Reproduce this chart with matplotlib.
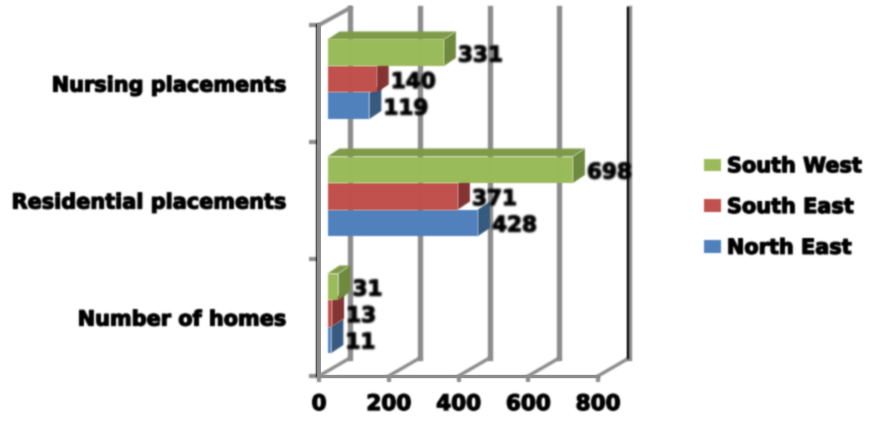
import matplotlib
matplotlib.use('Agg')
import matplotlib.pyplot as plt
import matplotlib.patheffects as pe
from matplotlib.lines import Line2D
from matplotlib.patches import Polygon, Rectangle
import numpy as np

categories = ['Number of homes', 'Residential placements', 'Nursing placements']
north_east = [11, 428, 119]
south_east = [13, 371, 140]
south_west = [31, 698, 331]
xticks = [0, 200, 400, 600, 800]

W, H = 885, 426
fig = plt.figure(figsize=(W/100, H/100), dpi=100, facecolor='white')
ax = fig.add_axes([319/W, 1-376/H, 279/W, 351/H])
ax.set_xlim(0, 800)
ax.set_ylim(0, 3)

# px to data units, the 3d look is done by hand
px = 800/279
py = 3/351
depth_x = 31*px
depth_y = 18*py

GREY = '#8c8c8c'

# back wall and floor lines
for t in xticks:
    ax.plot([t, t+depth_x], [0, depth_y], color=GREY, lw=2.4, clip_on=False, zorder=1)
    ax.plot([t+depth_x, t+depth_x], [depth_y, 3+17*py], color=GREY, lw=3.8, clip_on=False, zorder=1)
ax.plot([800+depth_x-1.5*px]*2, [depth_y, 3+17*py], color='black', lw=1.4, clip_on=False, zorder=1)
ax.plot([0, depth_x], [3, 3+17*py], color=GREY, lw=2.8, clip_on=False, zorder=1)
ax.plot([-2.5*px, -2.5*px], [0, 3], color='black', lw=1.3, clip_on=False, zorder=2)

for s in ['top', 'right']:
    ax.spines[s].set_visible(False)
ax.spines['left'].set_color(GREY)
ax.spines['left'].set_linewidth(2.8)
ax.spines['bottom'].set_color(GREY)
ax.spines['bottom'].set_linewidth(2.4)

ax.set_xticks(xticks)
ax.set_yticks([0, 1, 2, 3])
ax.set_yticklabels([])
ax.set_yticks([0.5, 1.5, 2.5], minor=True)
ax.set_yticklabels(categories, minor=True, fontsize=15, fontweight='bold')
ax.tick_params(axis='x', length=4, width=3, color=GREY, labelsize=15.5, pad=9)
ax.tick_params(axis='y', which='major', length=7, width=3, color=GREY)
ax.tick_params(axis='y', which='minor', length=0, pad=23)
for lab in ax.get_xticklabels():
    lab.set_fontweight('bold')

series = [
    ('North East', north_east, '#4F81BD', '#36597F', '#43709F', 23),
    ('South East', south_east, '#C0504D', '#843331', '#9C403E', 49.5),
    ('South West', south_west, '#9BBB59', '#6E8A3E', '#7F9A48', 76),
]
bar_h = 26.5*py
start = 8.5*px
side_x = 12*px
side_y = 8*py
handles = []
for name, vals, col, side, top, off in series:
    for c, v in enumerate(vals):
        y0 = c + off*py
        x1 = start + v*1.008
        r = Rectangle((start, y0), x1-start, bar_h, facecolor=col, edgecolor='none', clip_on=False, zorder=5)
        ax.add_patch(r)
        ax.add_patch(Polygon([(x1, y0), (x1+side_x, y0+side_y), (x1+side_x, y0+bar_h+side_y), (x1, y0+bar_h)],
                             facecolor=side, edgecolor='none', clip_on=False, zorder=4))
        if name == 'South West':
            ax.add_patch(Polygon([(start, y0+bar_h), (start+side_x, y0+bar_h+side_y), (x1+side_x, y0+bar_h+side_y), (x1, y0+bar_h)],
                                 facecolor=top, edgecolor='none', clip_on=False, zorder=4))
        ax.annotate(str(v), (x1+side_x, y0+bar_h/2), xytext=(1.5, -2), textcoords='offset points',
                    fontsize=15.5, fontweight='bold', va='center', ha='left', annotation_clip=False, zorder=6)
    handles.append(Rectangle((0, 0), 1, 1, facecolor=col, label=name))

leg = fig.legend(handles=handles[::-1], loc='center left', bbox_to_anchor=(704/W, 1-207/H), frameon=False,
                 prop={'size': 15, 'weight': 'bold'}, handlelength=0.8, handleheight=0.55,
                 labelspacing=1.0, handletextpad=0.3, borderpad=0, borderaxespad=0)


# the original is a blurry upscaled picture
def blur(img, dpi, sigma=0.8):
    pad = 4
    k = np.exp(-0.5*(np.arange(-pad, pad+1)/sigma)**2)
    k = k/k.sum()
    im = np.pad(img, ((pad, pad), (pad, pad), (0, 0)))
    a = im[:, :, 3:4]
    pm = np.dstack([im[:, :, :3]*a, a])
    for axis in [0, 1]:
        pm = np.apply_along_axis(lambda m: np.convolve(m, k, mode='same'), axis, pm)
    al = pm[:, :, 3:4]
    rgb = np.where(al > 1e-4, pm[:, :, :3]/np.maximum(al, 1e-4), 0)
    return np.clip(np.dstack([rgb, al]), 0, 1), -pad, -pad


for o in fig.findobj(lambda a: isinstance(a, (plt.Text, Polygon, Rectangle, Line2D))):
    o.set_agg_filter(blur)
    if isinstance(o, plt.Text):
        o.set_color('black')
        o.set_path_effects([pe.withStroke(linewidth=0.9, foreground='black')])

plt.savefig('out.png', dpi=100)
plt.close()
